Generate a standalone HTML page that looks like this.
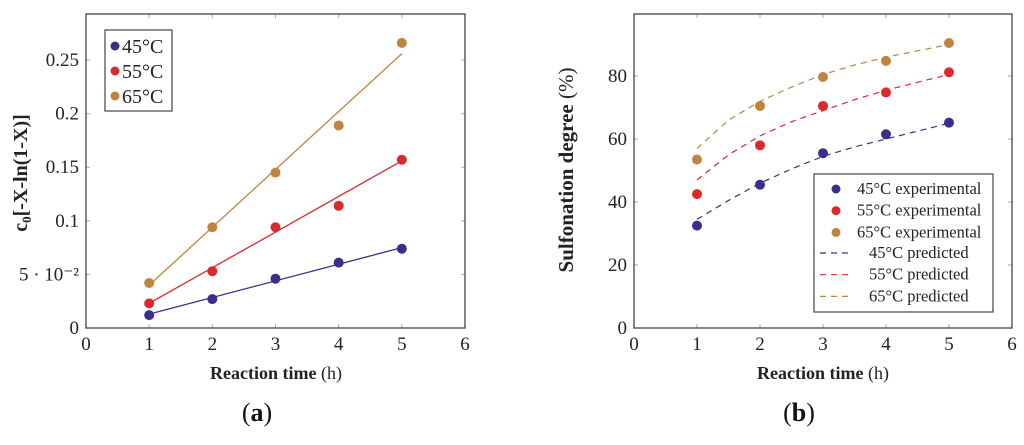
<!DOCTYPE html>
<html><head><meta charset="utf-8"><style>
body{margin:0;background:#fff;}
svg{display:block;font-family:"Liberation Serif",serif;}
</style></head><body>
<svg id="c" width="1024" height="445"></svg>
<script>
const xCats=[1,2,3,4,5];
const aTemps=['45°C','55°C','65°C'];
const a45=[0.012,0.027,0.046,0.061,0.074];
const a55=[0.023,0.053,0.094,0.114,0.157];
const a65=[0.042,0.094,0.145,0.189,0.266];
const a45fit=[0.013,0.075];
const a55fit=[0.023,0.156];
const a65fit=[0.040,0.256];
const aYTicks=[0,0.05,0.1,0.15,0.2,0.25];
const aYLabels=['0','5 · 10⁻²','0.1','0.15','0.2','0.25'];
const xTicks=[0,1,2,3,4,5,6];
const b45=[32.5,45.5,55.5,61.5,65.2];
const b55=[42.5,58,70.5,74.8,81.2];
const b65=[53.5,70.5,79.7,84.8,90.5];
const predX=[1,1.5,2,2.5,3,3.5,4,4.5,5];
const p45=[34.5,40.5,46,50.5,54.5,57.5,60,62.5,65];
const p55=[47,55,61,65.5,69,72.5,75.5,78,80.5];
const p65=[57,66,72,76.5,80.5,83.5,86,88,90];
const bYTicks=[0,20,40,60,80];
const bYLabels=['0','20','40','60','80'];
const colors=['#3a2e8c','#d92b2b','#c0843e'];
const NS='http://www.w3.org/2000/svg';
const svg=document.getElementById('c');
function el(t,at,p){const e=document.createElementNS(NS,t);for(const k in at)e.setAttribute(k,at[k]);(p||svg).appendChild(e);return e;}
function panel(x0,x1,y0,y1,xmax,ymax,name){
  const g=el('g',{});
  
  
  const sx=v=>x0+(x1-x0)*v/xmax, sy=v=>y1-(y1-y0)*v/ymax;
  return {g,sx,sy};
}
function axes(P,x0,x1,y0,y1,yt,yl){
  xTicks.forEach(t=>{const x=P.sx(t);
    el('line',{x1:x,x2:x,y1:y1,y2:y1-4,stroke:'#aaa'},P.g);el('line',{x1:x,x2:x,y1:y0,y2:y0+4,stroke:'#aaa'},P.g);
    const tx=el('text',{x:x,y:y1+22,'font-size':19,'text-anchor':'middle',fill:'#222'},P.g);tx.textContent=t;
    
    });
  yt.forEach((t,i)=>{const y=P.sy(t);
    el('line',{x1:x0,x2:x0+4,y1:y,y2:y,stroke:'#aaa'},P.g);el('line',{x1:x1,x2:x1-4,y1:y,y2:y,stroke:'#aaa'},P.g);
    const tx=el('text',{x:x0-7,y:y+6,'font-size':19,'text-anchor':'end',fill:'#222'},P.g);tx.textContent=yl[i];
    
    });
  el('rect',{x:x0,y:y0,width:x1-x0,height:y1-y0,fill:'none',stroke:'#444','stroke-width':1.3},P.g);
}
const A=panel(86,465,14,328,6,0.2930,'panel-a');
axes(A,86,465,14,328,aYTicks,aYLabels);
[[a45,a45fit],[a55,a55fit],[a65,a65fit]].forEach((s,i)=>{
  const l=el('line',{x1:A.sx(xCats[0]),y1:A.sy(s[1][0]),x2:A.sx(xCats[4]),y2:A.sy(s[1][1]),stroke:colors[i],'stroke-width':1.3},A.g);
  
  
  s[0].forEach((v,j)=>{const c=el('circle',{cx:A.sx(xCats[j]),cy:A.sy(v),r:5,fill:colors[i]},A.g);
    
    });
});
const la=el('g',{},A.g);


el('rect',{x:105,y:30,width:67,height:81,fill:'#fff',stroke:'#444','stroke-width':1.2},la);
aTemps.forEach((t,i)=>{el('circle',{cx:115,cy:46+i*25,r:4.5,fill:colors[i]},la);
  const tx=el('text',{x:122,y:53+i*25,'font-size':20,fill:'#222'},la);tx.textContent=t;});
const B=panel(634,1012,14,328,6,99.7,'panel-b');
axes(B,634,1012,14,328,bYTicks,bYLabels);
[p45,p55,p65].forEach((s,i)=>{
  const p=el('polyline',{points:s.map((v,j)=>B.sx(predX[j])+','+B.sy(v)).join(' '),fill:'none',stroke:colors[i],'stroke-width':1.2,'stroke-dasharray':'6 5'},B.g);
  
  });
[b45,b55,b65].forEach((s,i)=>s.forEach((v,j)=>{const c=el('circle',{cx:B.sx(xCats[j]),cy:B.sy(v),r:5,fill:colors[i]},B.g);
  
  }));
const lb=el('g',{},B.g);


el('rect',{x:814,y:174,width:179,height:138,fill:'#fff',stroke:'#444','stroke-width':1.2},lb);
aTemps.forEach((t,i)=>{el('circle',{cx:836,cy:189+i*21.7,r:4.5,fill:colors[i]},lb);
  const tx=el('text',{x:857,y:194+i*21.7,'font-size':16.5,fill:'#222'},lb);tx.textContent=t+' experimental';
  const y=253+i*21.7;el('line',{x1:820,x2:852,y1:y,y2:y,stroke:colors[i],'stroke-width':1.2,'stroke-dasharray':'6 5'},lb);
  const tp=el('text',{x:869,y:y+5,'font-size':16.5,fill:'#222'},lb);tp.textContent=t+' predicted';});
</script>
<svg width="1024" height="445" style="position:absolute;left:0;top:0;font-family:'Liberation Serif',serif">
<text x="276" y="379" font-size="18" text-anchor="middle" fill="#222"><tspan font-weight="bold">Reaction time</tspan> (h)</text>
<text x="823" y="379" font-size="18" text-anchor="middle" fill="#222"><tspan font-weight="bold">Reaction time</tspan> (h)</text>
<text transform="translate(27,173) rotate(-90)" font-size="20" font-weight="bold" text-anchor="middle" fill="#222">c<tspan font-size="13" dy="4">0</tspan><tspan dy="-4">[-X-ln(1-X)]</tspan></text>
<text transform="translate(573,170) rotate(-90)" font-size="21" text-anchor="middle" fill="#222"><tspan font-weight="bold">Sulfonation degree</tspan> (%)</text>
<text x="257" y="421" font-size="26" text-anchor="middle" fill="#111">(<tspan font-weight="bold">a</tspan>)</text>
<text x="799" y="421" font-size="26" text-anchor="middle" fill="#111">(<tspan font-weight="bold">b</tspan>)</text>
</svg>
</body></html>
